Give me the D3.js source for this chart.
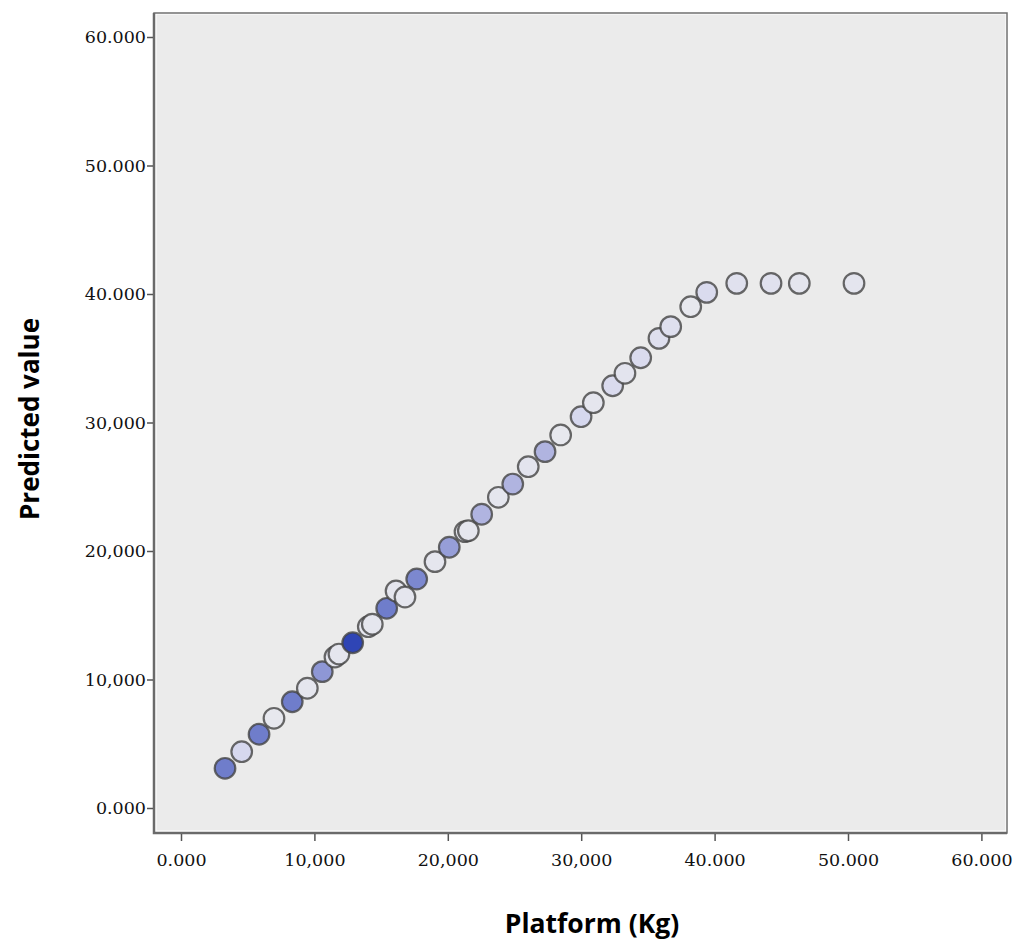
<!DOCTYPE html>
<html>
<head>
<meta charset="utf-8">
<script src="https://cdn.jsdelivr.net/npm/d3@7"></script>
<style>
  html, body { margin: 0; padding: 0; background: #ffffff; }
  svg { display: block; }
</style>
</head>
<body>
<svg id="chart" width="1024" height="952"></svg>
<script>
// ---- data ----
const platformKg = [3.30, 4.55, 5.85, 6.97, 8.34, 9.47, 10.59, 11.54, 11.84, 12.87,
  14.04, 14.34, 15.42, 16.12, 16.79, 17.67, 19.04, 20.11, 21.29, 21.54,
  22.54, 23.79, 24.87, 26.03, 27.29, 28.46, 29.99, 30.91, 32.36, 33.28,
  34.46, 35.83, 36.71, 38.21, 39.41, 41.66, 44.23, 46.35, 50.45];
const predictedValue = [3.09, 4.38, 5.74, 6.98, 8.27, 9.32, 10.61, 11.75, 11.98, 12.86,
  14.11, 14.30, 15.54, 16.89, 16.42, 17.82, 19.17, 20.29, 21.50, 21.58,
  22.86, 24.18, 25.21, 26.56, 27.73, 29.03, 30.45, 31.54, 32.86, 33.83,
  35.04, 36.55, 37.46, 39.01, 40.13, 40.83, 40.83, 40.83, 40.83];
const shade = [0.70, 0.25, 0.70, 0.02, 0.70, 0.05, 0.58, 0.05, 0.05, 1.00,
  0.05, 0.05, 0.70, 0.05, 0.05, 0.65, 0.05, 0.55, 0.05, 0.05,
  0.45, 0.05, 0.45, 0.08, 0.45, 0.02, 0.25, 0.05, 0.20, 0.08,
  0.20, 0.15, 0.15, 0.02, 0.20, 0.12, 0.12, 0.06, 0.06];
const xTickValues = [0, 10, 20, 30, 40, 50, 60];
const xTickLabels = ["0.000", "10,000", "20,000", "30,000", "40.000", "50.000", "60.000"];
const yTickValues = [0, 10, 20, 30, 40, 50, 60];
const yTickLabels = ["0.000", "10,000", "20,000", "30,000", "40.000", "50.000", "60.000"];
const xTitle = "Platform (Kg)";
const yTitle = "Predicted value";

// ---- layout ----
const frame = { left: 154, top: 13, right: 1007, bottom: 833 };
const svg = d3.select("#chart");

const x = d3.scaleLinear().domain([0, 60]).range([181, 981.4]);
const y = d3.scaleLinear().domain([0, 60]).range([808, 37]);
const color = d3.scaleLinear()
  .domain([0, 0.25, 0.45, 0.7, 1])
  .range(["#e9e9ee", "#d6d8ee", "#b0b4e0", "#6f7dcb", "#2f45b5"]);

// plot background
svg.append("rect")
  .attr("x", frame.left).attr("y", frame.top)
  .attr("width", frame.right - frame.left).attr("height", frame.bottom - frame.top)
  .attr("fill", "#ffffff");
svg.append("rect")
  .attr("x", frame.left + 2.5).attr("y", frame.top + 1.5)
  .attr("width", frame.right - frame.left - 4).attr("height", frame.bottom - frame.top - 4)
  .attr("fill", "#ebebeb");

// frame
svg.append("rect")
  .attr("x", frame.left).attr("y", frame.top)
  .attr("width", frame.right - frame.left).attr("height", frame.bottom - frame.top)
  .attr("fill", "none").attr("stroke", "#707070").attr("stroke-width", 1.5);
svg.append("path")
  .attr("d", `M${frame.left},${frame.top} V${frame.bottom} H${frame.right}`)
  .attr("fill", "none").attr("stroke", "#6a6a6a").attr("stroke-width", 2.5);

// axes
const tickFont = "'DejaVu Serif', 'Liberation Serif', serif";
const xAxis = d3.axisBottom(x)
  .tickValues(xTickValues)
  .tickFormat((d, i) => xTickLabels[i])
  .tickSize(7).tickPadding(13);
const gx = svg.append("g").attr("transform", `translate(0,${frame.bottom + 1})`).call(xAxis);
gx.select(".domain").remove();
gx.selectAll(".tick line").attr("stroke", "#555").attr("stroke-width", 1.5);
gx.selectAll(".tick text").attr("fill", "#111").style("font-family", tickFont).style("font-size", "17.5px");

const yAxis = d3.axisLeft(y)
  .tickValues(yTickValues)
  .tickFormat((d, i) => yTickLabels[i])
  .tickSize(6).tickPadding(1);
const gy = svg.append("g").attr("transform", `translate(${frame.left - 1},0)`).call(yAxis);
gy.select(".domain").remove();
gy.selectAll(".tick line").attr("stroke", "#555").attr("stroke-width", 1.5);
gy.selectAll(".tick text").attr("fill", "#111").style("font-family", tickFont).style("font-size", "17.5px");

// points
const pts = platformKg.map((v, i) => ({ x: v, y: predictedValue[i], s: shade[i] }));
svg.append("g").selectAll("circle")
  .data(pts).join("circle")
  .attr("cx", d => x(d.x)).attr("cy", d => y(d.y))
  .attr("r", 10.3)
  .attr("fill", d => color(d.s))
  .attr("stroke", "#444").attr("stroke-opacity", 0.8)
  .attr("stroke-width", 2.2);

// titles
svg.append("text")
  .attr("x", 592).attr("y", 933)
  .attr("text-anchor", "middle")
  .style("font-family", "'Open Sans', 'Noto Sans', sans-serif")
  .style("font-weight", "bold").style("font-size", "26.5px")
  .attr("fill", "#000")
  .text(xTitle);
svg.append("text")
  .attr("transform", "translate(39,419) rotate(-90)")
  .attr("text-anchor", "middle")
  .style("font-family", "'Open Sans', 'Noto Sans', sans-serif")
  .style("font-weight", "bold").style("font-size", "26px")
  .attr("fill", "#000")
  .text(yTitle);
</script>
</body>
</html>
